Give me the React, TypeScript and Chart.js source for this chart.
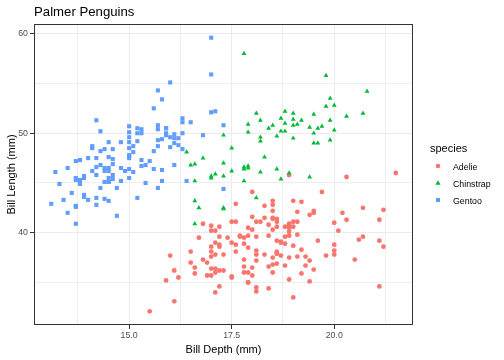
import React, { useEffect, useRef } from "react";
import { Chart, registerables } from "chart.js";

Chart.register(...registerables);

// [bill depth (mm), bill length (mm)]
const adelie: [number, number][] = [
  [18.7,39.1],[17.4,39.5],[18.0,40.3],[19.3,36.7],[20.6,39.3],[17.8,38.9],[19.6,39.2],[18.1,34.1],[20.2,42.0],[17.1,37.8],
  [17.3,37.8],[17.6,41.1],[21.2,38.6],[21.1,34.6],[17.8,36.6],[19.0,38.7],[20.7,42.5],[18.4,34.4],[21.5,46.0],[18.3,37.8],
  [18.7,37.7],[19.2,35.9],[18.1,38.2],[17.2,38.8],[18.9,35.3],[18.6,40.6],[17.9,40.5],[18.6,37.9],[18.9,40.5],[16.7,39.5],
  [18.1,37.2],[17.8,39.5],[18.9,40.9],[17.0,36.4],[21.1,39.2],[20.0,38.8],[18.5,42.2],[19.3,37.6],[19.1,39.8],[18.0,36.5],
  [18.4,40.8],[18.5,36.0],[19.7,44.1],[16.9,37.0],[18.8,39.6],[19.0,41.1],[18.9,37.5],[17.9,36.0],[21.2,42.3],[17.7,39.6],
  [18.9,40.1],[17.9,35.0],[19.5,42.0],[18.1,34.5],[18.6,41.4],[17.5,39.0],[18.8,40.6],[16.6,36.5],[19.1,37.6],[16.9,35.7],
  [21.1,41.3],[17.0,37.6],[18.2,41.1],[17.1,36.4],[18.0,41.6],[16.2,35.5],[19.1,41.1],[16.6,35.9],[19.4,41.8],[19.0,33.5],
  [18.4,39.7],[17.2,39.6],[18.9,45.8],[17.5,35.5],[18.5,42.8],[16.8,40.9],[19.4,37.2],[16.1,36.2],[19.1,42.1],[17.2,34.6],
  [17.6,42.9],[18.8,36.7],[19.4,35.1],[17.8,37.3],[20.3,41.3],[19.5,36.3],[18.6,36.9],[19.2,38.3],[18.8,38.9],[18.0,35.7],
  [18.1,41.1],[17.1,34.0],[18.1,39.6],[17.3,36.2],[18.9,40.8],[18.6,38.1],[18.5,40.3],[16.1,33.1],[18.5,43.2],[17.9,35.0],
  [20.0,41.0],[16.0,37.7],[20.0,37.8],[18.6,37.9],[18.9,39.7],[17.2,38.6],[20.0,38.2],[17.0,38.1],[19.0,43.2],[16.5,38.1],
  [20.3,45.6],[17.7,39.7],[19.5,42.2],[20.7,39.6],[18.3,42.7],[17.0,38.6],[20.5,37.3],[17.0,35.7],[18.6,41.1],[17.2,36.2],
  [19.8,37.7],[17.0,40.2],[18.5,41.4],[15.9,35.2],[19.0,40.6],[17.6,38.8],[18.3,41.5],[17.1,39.0],[18.0,44.1],[17.9,38.5],
  [19.2,43.1],[18.5,36.8],[18.5,37.5],[17.6,38.1],[17.5,41.1],[17.5,35.6],[20.1,40.2],[16.5,37.0],[17.9,39.7],[17.1,40.2],
  [17.2,40.6],[15.5,32.1],[17.0,40.7],[16.8,37.3],[18.7,39.0],[18.6,39.2],[18.4,36.6],[17.8,36.0],[18.1,37.8],[17.1,36.0],
  [18.5,41.5],
];

const gentoo: [number, number][] = [
  [13.2,46.1],[16.3,50.0],[14.1,48.7],[15.2,50.0],[14.5,47.6],[13.5,46.5],[14.6,45.4],[15.3,46.7],[13.4,43.3],[15.4,46.8],
  [13.7,40.9],[16.1,49.0],[13.7,45.5],[14.6,48.4],[14.6,45.8],[15.7,49.3],[13.5,42.0],[15.2,49.2],[14.5,46.2],[15.1,48.7],
  [14.3,50.2],[14.5,45.1],[14.5,46.5],[15.8,46.3],[13.1,42.9],[15.1,46.1],[14.3,44.5],[15.0,47.8],[14.3,48.2],[15.3,50.0],
  [15.3,47.3],[14.2,42.8],[14.5,45.1],[17.0,59.6],[14.8,49.1],[16.3,48.4],[13.7,42.6],[17.3,44.4],[13.6,44.0],[15.7,48.7],
  [13.7,42.7],[16.0,49.6],[13.7,45.3],[15.0,49.6],[15.9,50.5],[13.9,43.6],[13.9,45.5],[15.9,50.5],[13.3,44.9],[15.8,45.2],
  [14.2,46.6],[14.1,48.5],[14.4,45.1],[15.0,50.1],[14.4,46.5],[15.4,45.0],[13.9,43.8],[15.0,45.5],[14.5,43.2],[15.3,50.4],
  [13.8,45.3],[14.9,46.2],[13.9,45.7],[15.7,54.3],[14.2,45.8],[16.8,49.8],[14.4,46.2],[16.2,49.5],[14.2,43.5],[15.0,50.7],
  [15.0,47.7],[15.6,46.4],[15.6,48.2],[14.8,46.5],[15.0,46.4],[16.0,48.6],[14.2,47.5],[16.3,51.1],[13.8,45.2],[16.4,45.2],
  [14.5,49.1],[15.6,52.5],[14.6,47.4],[15.9,50.0],[13.8,44.9],[17.3,50.8],[14.4,43.4],[14.2,51.3],[14.0,47.5],[17.0,52.1],
  [15.0,47.5],[17.1,52.2],[14.5,45.5],[16.1,49.5],[14.7,44.5],[15.7,50.8],[15.8,49.4],[14.6,46.9],[14.4,48.4],[16.5,51.1],
  [15.0,48.5],[17.0,55.9],[15.5,47.2],[15.0,49.1],[13.8,47.3],[16.1,46.8],[14.7,41.7],[15.8,53.4],[14.0,43.3],[15.1,48.1],
  [15.2,50.5],[15.9,49.8],[15.2,43.5],[16.3,51.5],[14.1,46.2],[16.0,55.1],[15.7,44.5],[16.2,48.8],[13.7,47.2],[14.3,46.8],
  [15.7,50.4],[14.8,45.2],[16.1,49.9],
];

const chinstrap: [number, number][] = [
  [17.9,46.5],[19.5,50.0],[19.2,51.3],[18.7,45.4],[19.8,52.7],[17.8,45.2],[18.2,46.1],[18.2,51.3],[18.9,46.0],[19.9,51.3],
  [17.8,46.6],[20.3,51.7],[17.3,47.0],[18.1,52.0],[17.1,45.9],[19.6,50.5],[20.0,50.3],[17.8,58.0],[18.6,46.4],[18.2,49.2],
  [17.3,42.4],[17.5,48.5],[16.6,43.2],[19.4,50.6],[17.9,46.7],[19.0,52.0],[18.4,50.5],[19.0,49.5],[17.8,46.4],[20.0,52.8],
  [16.6,40.9],[20.8,54.2],[16.7,42.5],[18.8,51.0],[18.6,49.7],[16.8,47.5],[18.3,47.6],[20.7,52.0],[16.6,46.9],[19.9,53.5],
  [19.5,49.0],[17.5,46.2],[19.1,50.9],[17.0,45.5],[17.9,50.9],[18.5,50.8],[17.9,50.1],[19.6,49.0],[18.7,51.5],[17.3,49.8],
  [16.4,48.1],[19.0,51.4],[17.3,45.7],[19.7,50.7],[17.3,42.5],[18.8,52.2],[16.6,45.2],[19.9,49.3],[18.8,50.2],[19.4,45.6],
  [19.5,51.9],[16.5,46.8],[17.0,45.7],[19.8,55.8],[18.1,43.5],[18.2,49.6],[19.0,50.8],[18.7,50.2],
];

const speciesNames = ["Adelie", "Chinstrap", "Gentoo"];
const speciesColors = ["#F8766D", "#00BA38", "#619CFF"];

const xMajorTicks = [15, 17.5, 20];
const xMinorTicks = [13.75, 16.25, 18.75, 21.25];
const yMajorTicks = [40, 50, 60];
const yMinorTicks = [35, 45, 55];

const titleText = "Palmer Penguins";
const xTitle = "Bill Depth (mm)";
const yTitle = "Bill Length (mm)";
const legendTitle = "species";

const FONT = "'Liberation Sans', Arial, Helvetica, sans-serif";

function expandRange(vals: number[]): [number, number] {
  const lo = Math.min(...vals);
  const hi = Math.max(...vals);
  const pad = (hi - lo) * 0.05;
  return [lo - pad, hi + pad];
}

const panelBorder = {
  id: "panelBorder",
  afterDatasetsDraw(chart: any) {
    const { ctx, chartArea: a } = chart;
    ctx.save();
    ctx.strokeStyle = "#333333";
    ctx.lineWidth = 1;
    ctx.strokeRect(Math.round(a.left) + 0.5, Math.round(a.top) + 0.5, Math.round(a.right - a.left) - 1, Math.round(a.bottom - a.top) - 1);
    ctx.restore();
  },
};

function toPoints(arr: [number, number][]) {
  return arr.map(([d, l]) => ({ x: d, y: l }));
}

function LegendKey({ shape, color }: { shape: string; color: string }) {
  return (
    <svg width={10} height={10} style={{ position: "absolute", left: -5, top: -5 }}>
      {shape === "circle" && <circle cx={5} cy={5} r={2.3} fill={color} />}
      {shape === "triangle" && <polygon points="5,2.2 7.6,6.8 2.4,6.8" fill={color} />}
      {shape === "rect" && <rect x={3} y={3} width={4} height={4} fill={color} />}
    </svg>
  );
}

export default function App() {
  const canvasRef = useRef<HTMLCanvasElement | null>(null);

  useEffect(() => {
    const all = [...adelie, ...gentoo, ...chinstrap];
    const [xMin, xMax] = expandRange(all.map((p) => p[0]));
    const [yMin, yMax] = expandRange(all.map((p) => p[1]));
    const xAll = [...xMinorTicks, ...xMajorTicks].sort((a, b) => a - b);
    const yAll = [...yMinorTicks, ...yMajorTicks].sort((a, b) => a - b);

    const gridColor = (majors: number[]) => (ctx: any) =>
      ctx.tick && majors.includes(ctx.tick.value) ? "#EBEBEB" : "#EEEEEE";
    const tickColor = (majors: number[]) => (ctx: any) =>
      ctx.tick && majors.includes(ctx.tick.value) ? "#333333" : "rgba(0,0,0,0)";

    const chart = new Chart(canvasRef.current as HTMLCanvasElement, {
      type: "scatter",
      data: {
        datasets: [
          {
            label: speciesNames[0],
            data: toPoints(adelie),
            pointStyle: "circle",
            pointRadius: 2.4,
            backgroundColor: speciesColors[0],
            borderColor: speciesColors[0],
            borderWidth: 0,
            order: 3,
          },
          {
            label: speciesNames[2],
            data: toPoints(gentoo),
            pointStyle: "rect",
            pointRadius: 2.9,
            backgroundColor: speciesColors[2],
            borderColor: speciesColors[2],
            borderWidth: 0,
            order: 2,
          },
          {
            label: speciesNames[1],
            data: toPoints(chinstrap),
            pointStyle: "triangle",
            pointRadius: 2.8,
            backgroundColor: speciesColors[1],
            borderColor: speciesColors[1],
            borderWidth: 0,
            order: 1,
          },
        ],
      },
      options: {
        animation: false,
        responsive: false,
        maintainAspectRatio: false,
        devicePixelRatio: 1,
        layout: { padding: { top: 24, right: 91, left: 0, bottom: 0 } },
        plugins: { legend: { display: false }, tooltip: { enabled: false }, title: { display: false } },
        scales: {
          x: {
            type: "linear",
            min: xMin,
            max: xMax,
            afterBuildTicks: (scale: any) => {
              scale.ticks = xAll.map((v) => ({ value: v }));
            },
            afterFit: (scale: any) => {
              scale.height = 35;
            },
            border: { display: false },
            grid: { color: gridColor(xMajorTicks), tickColor: tickColor(xMajorTicks), tickLength: 4, lineWidth: 1 },
            ticks: {
              autoSkip: false,
              maxRotation: 0,
              padding: 1,
              color: "#4D4D4D",
              font: { family: FONT, size: 8.8 },
              callback: (v: any) => (xMajorTicks.includes(Number(v)) ? Number(v).toFixed(1) : ""),
            },
            title: {
              display: true,
              text: xTitle,
              color: "#000000",
              font: { family: FONT, size: 11 },
              padding: { top: 0, bottom: 3 },
            },
          },
          y: {
            type: "linear",
            min: yMin,
            max: yMax,
            afterBuildTicks: (scale: any) => {
              scale.ticks = yAll.map((v) => ({ value: v }));
            },
            afterFit: (scale: any) => {
              scale.width = 34;
            },
            border: { display: false },
            grid: { color: gridColor(yMajorTicks), tickColor: tickColor(yMajorTicks), tickLength: 4, lineWidth: 1 },
            ticks: {
              autoSkip: false,
              padding: 2,
              color: "#4D4D4D",
              font: { family: FONT, size: 8.8 },
              callback: (v: any) => (yMajorTicks.includes(Number(v)) ? String(v) : ""),
            },
            title: {
              display: true,
              text: yTitle,
              color: "#000000",
              font: { family: FONT, size: 11 },
              padding: { top: 5, bottom: 0 },
            },
          },
        },
      },
      plugins: [panelBorder],
    });
    return () => chart.destroy();
  }, []);

  const keyShapes = ["circle", "triangle", "rect"];
  const rowCenters = [167, 184, 201];

  return (
    <div style={{ position: "absolute", left: 0, top: 0, width: 504, height: 360, background: "#FFFFFF", fontFamily: FONT }}>
      <canvas ref={canvasRef} width={504} height={360} style={{ display: "block", width: 504, height: 360 }} />
      <div style={{ position: "absolute", left: 34, top: 5, fontSize: 13.2, lineHeight: "14px", color: "#000", whiteSpace: "nowrap" }}>
        {titleText}
      </div>
      <div style={{ position: "absolute", left: 430, top: 141, fontSize: 11, lineHeight: "14px", color: "#000" }}>
        {legendTitle}
      </div>
      {speciesNames.map((name, i) => (
        <React.Fragment key={name}>
          <div style={{ position: "absolute", left: 438, top: rowCenters[i] - 1, width: 0, height: 0 }}>
            <LegendKey shape={keyShapes[i]} color={speciesColors[i]} />
          </div>
          <div style={{ position: "absolute", left: 453, top: rowCenters[i] - 6, fontSize: 8.8, lineHeight: "12px", color: "#000", whiteSpace: "nowrap" }}>
            {name}
          </div>
        </React.Fragment>
      ))}
    </div>
  );
}
